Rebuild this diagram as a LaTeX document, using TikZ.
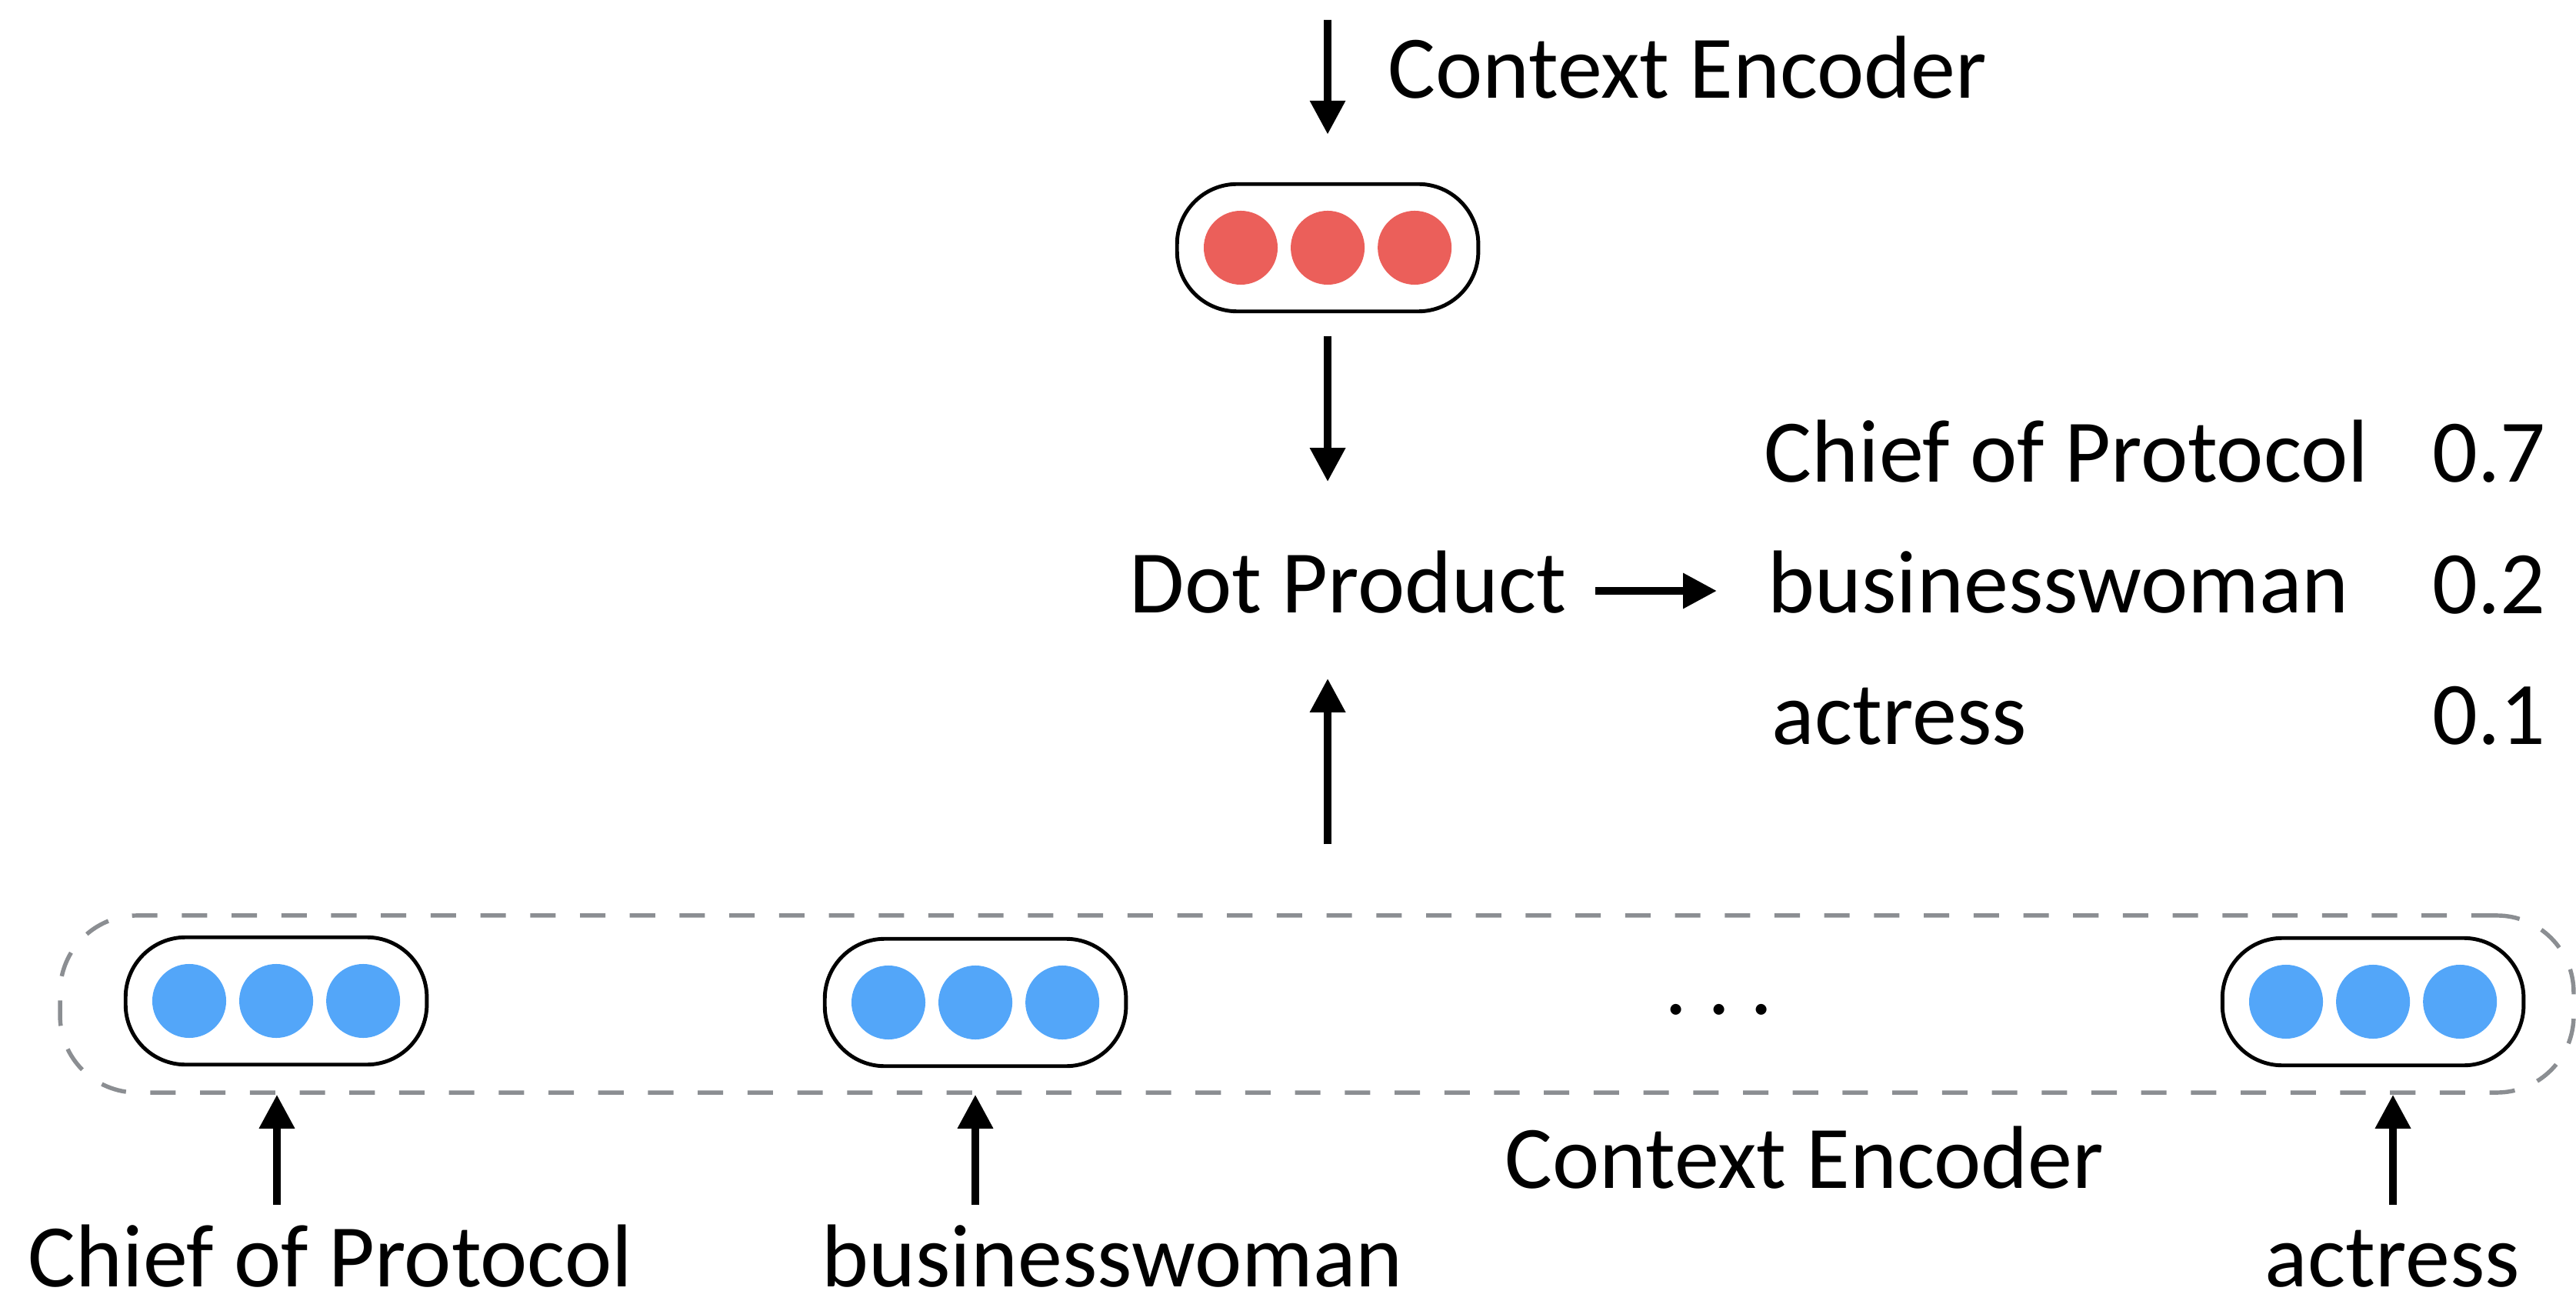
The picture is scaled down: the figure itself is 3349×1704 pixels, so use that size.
\documentclass[tikz,border=0pt]{standalone}
\usepackage{fontspec}
\setmainfont{Carlito}
\usepackage{tikz}
\usetikzlibrary{positioning}
\usetikzlibrary{fit}
\usetikzlibrary{arrows.meta}

\definecolor{queryred}{RGB}{235,95,90}
\definecolor{candblue}{RGB}{83,166,249}
\definecolor{encgray}{RGB}{139,142,146}

\begin{document}
\begin{tikzpicture}[x = 0.01cm, y = -0.01cm]

  \tikzstyle{unit}=[circle, minimum size = 9.6mm, inner sep = 0pt, node distance = 11.3mm]
  \tikzstyle{vector}=[rectangle, rounded corners = 7.8mm, draw = black, line width = 1.4pt, inner sep = 3.4mm]
  \tikzstyle{word}=[font = \fontsize{33}{40}\selectfont, inner sep = 0pt, text height = 24.5pt, text depth = 8pt]
  \tikzstyle{connect}=[-{Triangle[length = 12.5pt, width = 12.5pt]}, line width = 2.8pt]
  \tikzstyle{encoder}=[rectangle, rounded corners = 10mm, draw = encgray, line width = 1.55pt, dash pattern = on 9.4pt off 9pt, minimum width = 32.66cm, minimum height = 2.3cm]

  \useasboundingbox (0,0) rectangle (3349,1704);

  % query vector
  \node[unit, fill = queryred] (q1) at (1613,322) {};
  \node[unit, fill = queryred] (q2) [right of = q1] {};
  \node[unit, fill = queryred] (q3) [right of = q2] {};
  \node[vector, fit = (q1)(q3)] (ctx) {};
  \node[word, anchor = base west] (ctxname) at (1804,128) {Context Encoder};
  \coordinate (query) at (1726,26);

  % scores
  \node[word, anchor = base west] (dot) at (1468,797) {Dot Product};
  \node[word, anchor = base west] (res1) at (2293,627) {Chief of Protocol};
  \node[word, anchor = base west] (res2) at (2298,797) {businesswoman};
  \node[word, anchor = base west] (res3) at (2303,967) {actress};
  \node[word, anchor = base west] (score1) at (3162,627) {0.7};
  \node[word] (score2) [below of = score1, node distance = 17mm] {0.2};
  \node[word] (score3) [below of = score2, node distance = 17mm] {0.1};

  % candidate vectors
  \node[unit, fill = candblue] (a1) at (246,1301) {};
  \node[unit, fill = candblue] (a2) [right of = a1] {};
  \node[unit, fill = candblue] (a3) [right of = a2] {};
  \node[vector, fit = (a1)(a3)] (cand1) {};

  \node[unit, fill = candblue] (b1) at (1155,1303) {};
  \node[unit, fill = candblue] (b2) [right of = b1] {};
  \node[unit, fill = candblue] (b3) [right of = b2] {};
  \node[vector, fit = (b1)(b3)] (cand2) {};

  \node[unit, fill = candblue] (c1) at (2972,1302) {};
  \node[unit, fill = candblue] (c2) [right of = c1] {};
  \node[unit, fill = candblue] (c3) [right of = c2] {};
  \node[vector, fit = (c1)(c3)] (cand3) {};

  \node[word, anchor = base] (more) at (2235,1318) {.\ .\ .};
  \node[encoder] (enc) at (1712,1305) {};
  \node[word, anchor = base west] (encname) at (1956,1544) {Context Encoder};

  % candidate names
  \node[word, anchor = base west] (w1) at (36,1672) {Chief of Protocol};
  \node[word, anchor = base west] (w2) at (1068,1672) {businesswoman};
  \node[word, anchor = base west] (w3) at (2944,1672) {actress};
  \coordinate (in1) at (360,1566);
  \coordinate (in2) at (1268,1566);
  \coordinate (in3) at (3111,1566);

  \path (query) edge [connect, shorten > = 6.2mm] (ctx)
        (ctx) edge [connect, shorten < = 3mm, shorten > = 8.4mm] (ctx |- dot.north)
        (ctx |- enc.north) edge [connect, shorten < = 9mm, shorten > = 5.6mm] (ctx |- dot.south)
        (dot) edge [connect, shorten < = 3.7mm, shorten > = 6.6mm] (res2)
        (in1) edge [connect] (in1 |- enc.south)
        (in2) edge [connect] (in2 |- enc.south)
        (in3) edge [connect] (in3 |- enc.south);

\end{tikzpicture}
\end{document}
